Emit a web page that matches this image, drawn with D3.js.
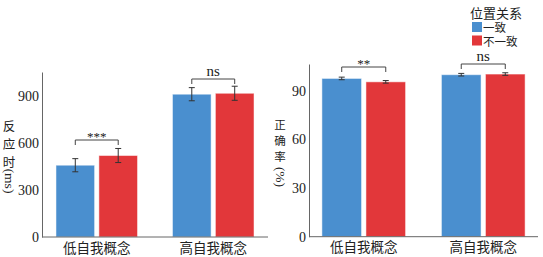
<!DOCTYPE html>
<html>
<head>
<meta charset="utf-8">
<script src="https://d3js.org/d3.v7.min.js"></script>
<style>
  body { margin: 0; background: #fff; }
  svg { display: block; }
</style>
</head>
<body>
<div id="chart"></div>
<script>
// data
var groups = ["低自我概念", "高自我概念"];
var series = ["一致", "不一致"];
var colors = ["#4a8fcf", "#e2373a"];

// reaction time (ms), per group: [一致, 不一致]
var rtMean = [[459, 521], [913, 919]];
var rtErr = [[42, 45], [42, 45]];
var rtTicks = [0, 300, 600, 900];
var rtSig = ["***", "ns"];

// accuracy (%)
var accMean = [[97.6, 95.5], [99.9, 100.3]];
var accErr = [[0.8, 0.8], [0.8, 0.8]];
var accTicks = [0, 30, 60, 90];
var accSig = ["**", "ns"];

var SERIF = "'Liberation Serif', 'DejaVu Serif', serif";
var CJK = "'Noto Sans CJK SC', sans-serif";

var svg = d3.select("#chart").append("svg")
  .attr("width", 543)
  .attr("height", 257);

// one panel = bars + error bars + significance brackets
function panel(opt) {
  var y = d3.scaleLinear().domain([0, opt.yMax]).range([opt.bottom, opt.top]);
  var x = d3.scaleBand().domain(groups).range([opt.left, opt.right])
    .paddingInner(0.3).paddingOuter(opt.outer);
  var xs = d3.scaleBand().domain(series).range([0, x.bandwidth()]).paddingInner(0.1);

  var g = svg.append("g");

  // bars
  opt.mean.forEach(function(row, gi) {
    row.forEach(function(v, si) {
      g.append("rect")
        .attr("x", x(groups[gi]) + xs(series[si]))
        .attr("y", y(v))
        .attr("width", xs.bandwidth())
        .attr("height", y(0) - y(v))
        .attr("fill", colors[si])
        .attr("stroke", "#ffffff")
        .attr("stroke-opacity", 0.5)
        .attr("stroke-width", 1);
    });
  });

  // error bars
  opt.mean.forEach(function(row, gi) {
    row.forEach(function(v, si) {
      var cx = x(groups[gi]) + xs(series[si]) + xs.bandwidth() / 2;
      var e = opt.err[gi][si];
      var eg = g.append("g").attr("stroke", "#333").attr("stroke-width", 1);
      eg.append("line").attr("x1", cx).attr("x2", cx).attr("y1", y(v - e)).attr("y2", y(v + e));
      eg.append("line").attr("x1", cx - 3).attr("x2", cx + 3).attr("y1", y(v - e)).attr("y2", y(v - e));
      eg.append("line").attr("x1", cx - 3).attr("x2", cx + 3).attr("y1", y(v + e)).attr("y2", y(v + e));
    });
  });

  // significance brackets
  groups.forEach(function(gr, gi) {
    var x1 = x(gr) + xs(series[0]) + xs.bandwidth() / 2;
    var x2 = x(gr) + xs(series[1]) + xs.bandwidth() / 2;
    var by = opt.bracketY[gi];
    g.append("path")
      .attr("d", "M" + x1 + "," + (by + 5) + "V" + by + "H" + x2 + "V" + (by + 5))
      .attr("fill", "none")
      .attr("stroke", "#444")
      .attr("stroke-width", 1);
    g.append("text")
      .style("font-family", SERIF)
      .attr("fill", "#222")
      .attr("x", (x1 + x2) / 2)
      .attr("y", opt.sig[gi] == "ns" ? by - 3 : by + 1)
      .attr("text-anchor", "middle")
      .attr("font-size", opt.sig[gi] == "ns" ? 15 : 13)
      .text(opt.sig[gi]);
  });

  // axes
  var ya = g.append("g")
    .attr("transform", "translate(" + opt.left + ",0)")
    .call(d3.axisLeft(y).tickValues(opt.ticks).tickSize(0).tickPadding(3));
  ya.select(".domain").attr("stroke", "#666");
  ya.selectAll("text").style("font-family", SERIF).style("font-size", "14px").attr("fill", "#222");

  var xa = g.append("g")
    .attr("transform", "translate(0," + opt.bottom + ")")
    .call(d3.axisBottom(x).tickSize(0).tickPadding(6));
  xa.select(".domain").attr("stroke", "#666").attr("d", "M" + opt.left + ",0H" + opt.axisEnd);
  xa.selectAll("text").style("font-family", CJK).style("font-size", "13.5px").attr("fill", "#222");

  // vertical y label
  opt.labelChars.forEach(function(c, i) {
    g.append("text")
      .style("font-family", CJK)
      .attr("fill", "#222")
      .attr("x", opt.labelX)
      .attr("y", opt.labelY[i])
      .attr("text-anchor", "middle")
      .attr("dominant-baseline", "central")
      .attr("font-size", opt.labelSize)
      .text(c);
  });
  g.append("text")
    .style("font-family", SERIF)
    .attr("fill", "#222")
    .attr("transform", "translate(" + opt.labelX + "," + opt.unitY + ") rotate(90)")
    .attr("text-anchor", "middle")
    .attr("dominant-baseline", "central")
    .attr("font-size", 13.5)
    .text(opt.unit);
}

panel({
  left: 42, right: 268, axisEnd: 268, outer: 0.12,
  top: 72, bottom: 237, yMax: 1055,
  mean: rtMean, err: rtErr, ticks: rtTicks, sig: rtSig,
  bracketY: [140, 79],
  labelChars: ["反", "应", "时"], labelSize: 12.5, labelX: 9, labelY: [125, 143, 161],
  unit: "(ms)", unitY: 181
});

panel({
  left: 309, right: 538, axisEnd: 538, outer: 0.108,
  top: 64, bottom: 236.7, yMax: 106.5,
  mean: accMean, err: accErr, ticks: accTicks, sig: accSig,
  bracketY: [67, 64],
  labelChars: ["正", "确", "率"], labelSize: 11.5, labelX: 280, labelY: [124, 140, 156],
  unit: "(%)", unitY: 177
});

// legend
var lg = svg.append("g");
lg.append("text").style("font-family", CJK).attr("fill", "#222")
  .attr("x", 496).attr("y", 12)
  .attr("text-anchor", "middle").attr("dominant-baseline", "central")
  .attr("font-size", 13).text("位置关系");
series.forEach(function(s, i) {
  lg.append("rect")
    .attr("x", 472).attr("y", 22 + i * 13.5)
    .attr("width", 10).attr("height", 10)
    .attr("fill", colors[i]);
  lg.append("text").style("font-family", CJK).attr("fill", "#222")
    .attr("x", 483).attr("y", 27 + i * 13.5)
    .attr("dominant-baseline", "central")
    .attr("font-size", 11.5).text(s);
});
</script>
</body>
</html>
